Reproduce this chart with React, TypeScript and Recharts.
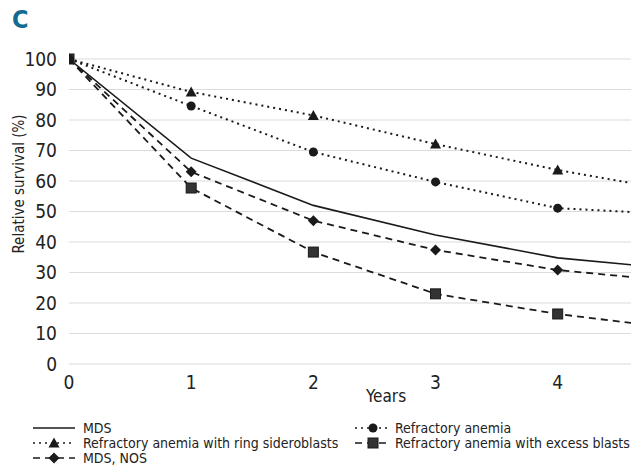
import * as React from 'react';
import { LineChart, Line, XAxis, YAxis, CartesianGrid } from 'recharts';

// values; the last year is cut off by the image edge
const years = [0, 1, 2, 3, 4, 5];
const mds = [100, 67.5, 52, 42.3, 34.8, 31];
const ra = [100, 84.6, 69.5, 59.7, 51.1, 49];
const rars = [100, 89.2, 81.5, 72.1, 63.6, 56.5];
const mdsNos = [100, 63, 47, 37.4, 30.8, 27];
const raeb = [100, 57.7, 36.7, 23, 16.4, 11.5];
const yTicks = [0, 10, 20, 30, 40, 50, 60, 70, 80, 90, 100];
const xTicks = [0, 1, 2, 3, 4];

const data = years.map((y, i) => ({
  year: y,
  mds: mds[i],
  ra: ra[i],
  rars: rars[i],
  mdsNos: mdsNos[i],
  raeb: raeb[i],
}));

const INK = '#1a1a1a';
const FONT = '"DejaVu Sans Condensed", "Liberation Sans Narrow", Arial, sans-serif';
const DOTTED = '2 4';
const DASHED = '7 5';

type Shape = 'circle' | 'triangle' | 'diamond' | 'square';

const shapeEl = (shape: Shape, cx: number, cy: number, key?: React.Key) => {
  switch (shape) {
    case 'circle':
      return <circle key={key} cx={cx} cy={cy} r={4.5} fill={INK} />;
    case 'triangle':
      return <polygon key={key} points={`${cx},${cy - 5.5} ${cx + 5.5},${cy + 4.5} ${cx - 5.5},${cy + 4.5}`} fill={INK} />;
    case 'diamond':
      return <polygon key={key} points={`${cx},${cy - 5.5} ${cx + 5.5},${cy} ${cx},${cy + 5.5} ${cx - 5.5},${cy}`} fill={INK} />;
    default:
      return <rect key={key} x={cx - 5} y={cy - 5} width={10} height={10} fill="#333" stroke={INK} strokeWidth={1} />;
  }
};

const markerDot = (shape: Shape) => (props: any) => {
  const { cx, cy, index } = props;
  if (cx == null || cy == null) return <g key={`m-${index}`} />;
  return shapeEl(shape, cx, cy, `m-${index}`);
};

const legendItems: Array<{ name: string; dash?: string; shape?: Shape; x: number; y: number; sw: number }> = [
  { name: 'MDS', x: 33, y: 428, sw: 42 },
  { name: 'Refractory anemia with ring sideroblasts', dash: DOTTED, shape: 'triangle', x: 33, y: 443, sw: 42 },
  { name: 'MDS, NOS', dash: DASHED, shape: 'diamond', x: 33, y: 458, sw: 42 },
  { name: 'Refractory anemia', dash: DOTTED, shape: 'circle', x: 355, y: 428, sw: 36 },
  { name: 'Refractory anemia with excess blasts', dash: DASHED, shape: 'square', x: 355, y: 443, sw: 36 },
];

export default function App() {
  return (
    <div style={{ position: 'absolute', left: 0, top: 0, width: 631, height: 467, background: '#fff', fontFamily: FONT }}>
      <div style={{ position: 'absolute', left: 12, top: 5, fontSize: 25, fontWeight: 'bold', color: '#136b91' }}>C</div>
      <LineChart width={631} height={467} data={data} margin={{ top: 59, right: 0, left: 0, bottom: 73 }}>
        <CartesianGrid vertical={false} stroke="#dcdcdc" strokeWidth={1.2} />
        <XAxis
          dataKey="year"
          type="number"
          domain={[0, 4.6]}
          ticks={xTicks}
          allowDataOverflow
          axisLine={false}
          tickLine={false}
          tickMargin={6}
          tick={{ fontSize: 19, fill: '#222', fontFamily: FONT }}
          height={30}
        />
        <YAxis
          type="number"
          domain={[0, 100]}
          ticks={yTicks}
          width={69}
          axisLine={false}
          tickLine={false}
          tickMargin={6}
          tick={{ fontSize: 19, fill: '#222', fontFamily: FONT }}
          label={() => (
            <text x={19} y={184} transform="rotate(-90 19 184)" textAnchor="middle" dominantBaseline="central" fontSize={15} fill="#222" fontFamily={FONT}>
              Relative survival (%)
            </text>
          )}
        />
        <Line dataKey="mds" stroke={INK} strokeWidth={1.6} dot={false} isAnimationActive={false} />
        <Line dataKey="raeb" stroke={INK} strokeWidth={1.8} strokeDasharray={DASHED} dot={markerDot('square')} isAnimationActive={false} />
        <Line dataKey="mdsNos" stroke={INK} strokeWidth={1.8} strokeDasharray={DASHED} dot={markerDot('diamond')} isAnimationActive={false} />
        <Line dataKey="rars" stroke={INK} strokeWidth={2} strokeDasharray={DOTTED} dot={markerDot('triangle')} isAnimationActive={false} />
        <Line dataKey="ra" stroke={INK} strokeWidth={2} strokeDasharray={DOTTED} dot={markerDot('circle')} isAnimationActive={false} />
      </LineChart>
      <div style={{ position: 'absolute', left: 366, top: 386, fontSize: 17, color: '#222' }}>Years</div>
      {legendItems.map((it) => (
        <div
          key={it.name}
          style={{
            position: 'absolute',
            left: it.x,
            top: it.y - 8,
            height: 16,
            display: 'flex',
            alignItems: 'center',
            fontSize: 14,
            lineHeight: '16px',
            whiteSpace: 'nowrap',
            color: '#222',
          }}
        >
          <svg width={it.sw} height={14} style={{ marginRight: it.x < 100 ? 8 : 4, flex: 'none' }}>
            <line x1={0} y1={7} x2={it.sw} y2={7} stroke={INK} strokeWidth={1.6} strokeDasharray={it.dash} />
            {it.shape && shapeEl(it.shape, it.sw / 2, 7)}
          </svg>
          <span>{it.name}</span>
        </div>
      ))}
    </div>
  );
}
